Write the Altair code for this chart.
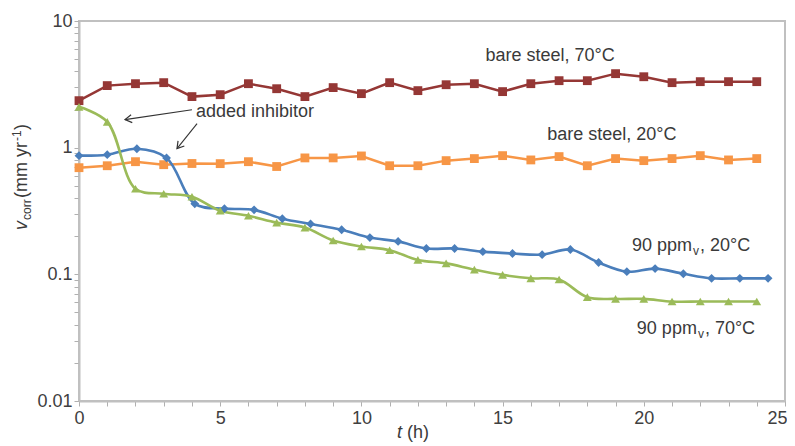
import altair as alt
import pandas as pd

FONT = "Liberation Sans"

# ---- data ----
series_names = ["bare steel, 70°C", "bare steel, 20°C", "90 ppmv, 20°C", "90 ppmv, 70°C"]
colors = ["#953735", "#f79646", "#4a7ebb", "#9bbb59"]
shapes = ["square", "square", "diamond", "triangle-up"]
marker_sizes = [78, 78, 130, 115]

t_hourly = list(range(25))
t_blue = [0, 1, 2.05, 3.1, 4.1, 5.15, 6.2, 7.2, 8.2, 9.3, 10.3, 11.3, 12.3, 13.3,
          14.3, 15.35, 16.4, 17.4, 18.4, 19.4, 20.4, 21.4, 22.4, 23.4, 24.4]

v_bare70 = [2.35, 3.09, 3.2, 3.26, 2.53, 2.62, 3.2, 2.92, 2.53, 2.98, 2.67, 3.26, 2.82,
            3.14, 3.2, 2.77, 3.2, 3.38, 3.38, 3.84, 3.63, 3.26, 3.32, 3.32, 3.32]
v_bare20 = [0.695, 0.72, 0.775, 0.734, 0.75, 0.748, 0.775, 0.71, 0.83, 0.83, 0.86, 0.72,
            0.72, 0.79, 0.82, 0.865, 0.80, 0.85, 0.72, 0.82, 0.79, 0.82, 0.865, 0.80, 0.82]
v_inh20 = [0.865, 0.88, 0.98, 0.83, 0.36, 0.33, 0.323, 0.275, 0.25, 0.225, 0.195, 0.182,
           0.16, 0.16, 0.151, 0.146, 0.143, 0.157, 0.124, 0.105, 0.111, 0.101, 0.093,
           0.093, 0.093]
v_inh70 = [2.1, 1.6, 0.474, 0.433, 0.41, 0.318, 0.29, 0.256, 0.234, 0.185, 0.166, 0.155,
           0.13, 0.122, 0.109, 0.099, 0.093, 0.091, 0.066, 0.064, 0.064, 0.061, 0.061,
           0.061, 0.061]

x_ticks = list(range(26))
y_ticks = [round(k * 10 ** e, 6) for e in (-2, -1, 0) for k in range(1, 10)] + [10]

# labels placed in data coordinates
bare_labels = ["bare steel, 70°C", "bare steel, 20°C"]
bare_label_t = [16.68, 18.87]
bare_label_v = [5.32, 1.267]

ppm_main = ["90 ppm", "90 ppm"]
ppm_sub = ["v", "v"]
ppm_rest = [", 20°C", ", 70°C"]
ppm_t = [21.71, 21.88]
ppm_v = [0.1684, 0.0373]

inhib_label = ["added inhibitor"]
inhib_t = [6.23]
inhib_v = [1.92]

arrow_t_from = [4.0, 4.18]
arrow_v_from = [1.995, 1.547]
arrow_t_to = [1.63, 3.47]
arrow_v_to = [1.664, 0.982]
arrow_angle = [171.5, 128.7]

# ---- tables ----
rows = []
for name, ts, vs in zip(series_names, [t_hourly, t_hourly, t_blue, t_hourly],
                        [v_bare70, v_bare20, v_inh20, v_inh70]):
    for t, v in zip(ts, vs):
        rows.append({"series": name, "t": t, "v": v})
df = pd.DataFrame(rows)

bare_df = pd.DataFrame({"label": bare_labels, "t": bare_label_t, "v": bare_label_v})
ppm_df = pd.DataFrame({"a": ppm_main, "b": ppm_sub, "c": ppm_rest, "t": ppm_t, "v": ppm_v})
inhib_df = pd.DataFrame({"label": inhib_label, "t": inhib_t, "v": inhib_v})
arrow_df = pd.DataFrame({"t": arrow_t_from, "v": arrow_v_from,
                         "t2": arrow_t_to, "v2": arrow_v_to, "ang": arrow_angle})
arrow_head_df = pd.DataFrame({"t": arrow_t_to, "v": arrow_v_to, "ang": arrow_angle})

# ---- scales / encodings ----
xscale = alt.Scale(domain=[0, 25], nice=False, zero=False)
yscale = alt.Scale(type="log", domain=[0.01, 10], nice=False)

X = alt.X("t:Q", scale=xscale, axis=alt.Axis(
    values=x_ticks, title=None, labelPadding=3, labelFlush=False,
    labelAlign={"condition": {"test": "datum.value == 25", "value": "right"}, "value": "center"},
    labelOffset={"condition": {"test": "datum.value == 25", "value": 2}, "value": 0},
    labelExpr="datum.value % 5 == 0 ? datum.label : ''"))
Y = alt.Y("v:Q", scale=yscale, axis=alt.Axis(
    values=y_ticks, title=None, labelPadding=2,
    labelExpr="abs(log(datum.value)/LN10 - round(log(datum.value)/LN10)) < 0.001 ? format(datum.value, '~g') : ''"))

color = alt.Color("series:N", scale=alt.Scale(domain=series_names, range=colors), legend=None)
shape = alt.Shape("series:N", scale=alt.Scale(domain=series_names, range=shapes), legend=None)
size = alt.Size("series:N", scale=alt.Scale(domain=series_names, range=marker_sizes), legend=None)

lines_lin = alt.Chart(df).transform_filter(
    alt.FieldOneOfPredicate(field="series", oneOf=series_names[:2])
).mark_line(strokeWidth=2.5).encode(x=X, y=Y, color=color)

lines_smooth = alt.Chart(df).transform_filter(
    alt.FieldOneOfPredicate(field="series", oneOf=series_names[2:])
).mark_line(strokeWidth=2.6, interpolate="catmull-rom").encode(x=X, y=Y, color=color)

points = alt.Chart(df).mark_point(filled=True, opacity=1).encode(
    x=X, y=Y, color=color, shape=shape, size=size)

TXT = "#3a3a3a"
bare_text = alt.Chart(bare_df).mark_text(font=FONT, fontSize=18, color=TXT,
                                         align="center", baseline="middle").encode(
    x=X, y=Y, text="label:N")
inhib_text = alt.Chart(inhib_df).mark_text(font=FONT, fontSize=18, color=TXT,
                                           align="center", baseline="middle").encode(
    x=X, y=Y, text="label:N")
ppm_a = alt.Chart(ppm_df).mark_text(font=FONT, fontSize=18, color=TXT,
                                    align="right", baseline="middle").encode(x=X, y=Y, text="a:N")
ppm_b = alt.Chart(ppm_df).mark_text(font=FONT, fontSize=12, color=TXT, align="left",
                                    baseline="middle", dx=1, dy=5).encode(x=X, y=Y, text="b:N")
ppm_c = alt.Chart(ppm_df).mark_text(font=FONT, fontSize=18, color=TXT, align="left",
                                    baseline="middle", dx=8).encode(x=X, y=Y, text="c:N")

arrows = alt.Chart(arrow_df).mark_rule(color="#333333", strokeWidth=1.1).encode(
    x=X, y=Y, x2="t2:Q", y2="v2:Q")
heads = alt.Chart(arrow_head_df).mark_point(
    shape="M -1 -0.6 L 0 0 L -1 0.6", filled=False, color="#333333",
    strokeWidth=1.2, size=180, opacity=1).encode(
    x=X, y=Y, angle=alt.Angle("ang:Q", scale=None))

one = pd.DataFrame({"k": [0]})


def piece(text, px, py, fs, italic=False, baseline="alphabetic", angle=270):
    kw = dict(text=text, font=FONT, fontSize=fs, color=TXT, align="left",
              baseline=baseline, angle=angle)
    if italic:
        kw["fontStyle"] = "italic"
    return alt.Chart(one).mark_text(**kw).encode(x=alt.value(px), y=alt.value(py))


# y-axis title: v_corr (mm yr^-1), written upward
ytitle = [
    piece("v", -52, 209, 18, italic=True),
    piece("corr", -48, 199, 12),
    piece("(mm  yr", -52, 177, 18),
    piece("-1", -58, 120, 12),
    piece(")", -52, 109, 18),
]
# x-axis title: t (h)
xtitle = [
    piece("t", 318, 417, 18, italic=True, angle=0),
    piece("(h)", 328, 417, 18, angle=0),
]

chart = alt.layer(
    lines_lin, lines_smooth, points, arrows, heads,
    bare_text, inhib_text, ppm_a, ppm_b, ppm_c, *ytitle, *xtitle
).properties(
    width=706, height=380,
    padding={"left": 71, "top": 13, "right": 2, "bottom": 43},
    autosize=alt.AutoSizeParams(type="none"),
).configure_view(
    stroke="#c0c0c0", strokeWidth=2
).configure_axis(
    grid=False, domainColor="#c0c0c0", domainWidth=2, tickColor="#b0b0b0",
    tickSize=5, tickWidth=1, labelFont=FONT, labelFontSize=18, labelColor="#404040"
)

chart.save("out.html", embed_options={"renderer": "svg", "actions": False})
